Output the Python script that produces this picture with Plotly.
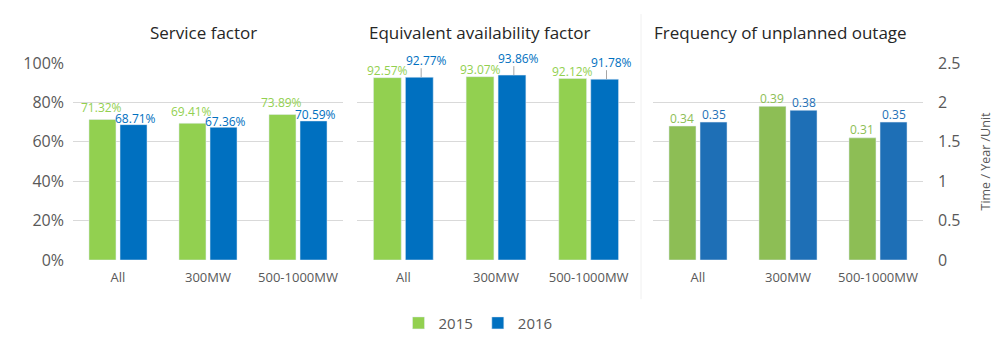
import plotly.graph_objects as go

categories = ["All", "300MW", "500-1000MW"]
years = ["2015", "2016"]
service_2015 = [71.32, 69.41, 73.89]
service_2016 = [68.71, 67.36, 70.59]
eaf_2015 = [92.57, 93.07, 92.12]
eaf_2016 = [92.77, 93.86, 91.78]
outage_2015 = [0.34, 0.39, 0.31]
outage_2016 = [0.35, 0.38, 0.35]

titles = ["Service factor", "Equivalent availability factor", "Frequency of unplanned outage"]
right_axis_title = "Time / Year /Unit"

GREEN = "#92D050"
BLUE = "#0070C0"
GREEN3 = "#8DBE55"
BLUE3 = "#1E6FB6"
FONT = "Open Sans"
GRAY = "#595959"
GRID = "#D9D9D9"
BARGAP = 0.31
OFFSET = (1 - BARGAP) / 4  # centre offset of each bar inside its group

fig = go.Figure()


def bar(y, name, color, xa, ya, legend=False):
    return go.Bar(x=categories, y=y, name=name, marker_color=color, xaxis=xa, yaxis=ya,
                  showlegend=legend, hoverinfo="x+y")


def labels(values, fmt, color, xa, ya, side, yshift, xshift=0):
    for i, v in enumerate(values):
        fig.add_annotation(x=i + side * OFFSET, y=v, xref=xa, yref=ya, text=fmt.format(v),
                           showarrow=False, xanchor="center", yanchor="middle",
                           yshift=yshift, xshift=xshift,
                           font=dict(color=color, size=12, family=FONT))


# Panel 1
fig.add_trace(bar(service_2015, years[0], GREEN, "x", "y", legend=True))
fig.add_trace(bar(service_2016, years[1], BLUE, "x", "y", legend=True))
labels(service_2015, "{:.2f}%", GREEN, "x", "y", -1, 12, -1)
labels(service_2016, "{:.2f}%", BLUE, "x", "y", 1, 6, 2)

# Panel 2
fig.add_trace(bar(eaf_2015, years[0], GREEN, "x2", "y2"))
fig.add_trace(bar(eaf_2016, years[1], BLUE, "x2", "y2"))
labels(eaf_2015, "{:.2f}%", GREEN, "x2", "y2", -1, 7)
labels(eaf_2016, "{:.2f}%", BLUE, "x2", "y2", 1, 17, 7)
for i, v in enumerate(eaf_2016):
    fig.add_shape(type="line", xref="x2", yref="y2", x0=i + OFFSET + 0.02, x1=i + OFFSET + 0.02,
                  ysizemode="pixel", yanchor=v, y0=0, y1=9,
                  line=dict(color="#A6A6A6", width=1))

# Panel 3: invisible anchor trace on the visible right axis y3, bars on hidden y4
fig.add_trace(go.Scatter(x=[categories[0]], y=[0], mode="markers", marker=dict(opacity=0),
                         xaxis="x3", yaxis="y3", showlegend=False, hoverinfo="skip"))
fig.add_trace(bar(outage_2015, years[0], GREEN3, "x3", "y4"))
fig.add_trace(bar(outage_2016, years[1], BLUE3, "x3", "y4"))
labels(outage_2015, "{:.2f}", GREEN3, "x3", "y4", -1, 8)
labels(outage_2016, "{:.2f}", BLUE3, "x3", "y4", 1, 8)

ydom = [0.2614, 0.821]
xcommon = dict(type="category", showgrid=False, showline=False, zeroline=False, ticks="",
               tickfont=dict(size=13, color=GRAY), ticklabelstandoff=8, automargin=False)
ycommon = dict(domain=ydom, showgrid=True, gridcolor=GRID, gridwidth=1, zeroline=False,
               showline=False, ticks="", automargin=False)

fig.update_layout(
    width=1000, height=352, margin=dict(l=0, r=0, t=0, b=0, autoexpand=False),
    paper_bgcolor="white", plot_bgcolor="white",
    font=dict(family=FONT, color=GRAY),
    barmode="group", bargap=BARGAP, bargroupgap=0.13,
    xaxis=dict(domain=[0.073, 0.343], anchor="y", **xcommon),
    xaxis2=dict(domain=[0.357, 0.635], anchor="y2", **xcommon),
    xaxis3=dict(domain=[0.653, 0.923], anchor="y3", **xcommon),
    yaxis=dict(anchor="x", range=[0, 100], dtick=20, ticksuffix="%",
               tickfont=dict(size=16, color=GRAY), ticklabelstandoff=8, **ycommon),
    yaxis2=dict(anchor="x2", range=[0, 100], dtick=20, showticklabels=False, **ycommon),
    yaxis3=dict(anchor="x3", side="right", range=[0, 2.5], dtick=0.5,
                tickfont=dict(size=16, color=GRAY), ticklabelstandoff=14,
                title=dict(text=right_axis_title, font=dict(size=12.5, color=GRAY), standoff=21),
                **ycommon),
    yaxis4=dict(anchor="x3", overlaying="y3", range=[0, 0.5], domain=ydom,
                visible=False, showgrid=False, zeroline=False),
    legend=dict(orientation="h", x=0.478, xanchor="center", y=0.082, yanchor="middle",
                font=dict(size=15, color=GRAY), traceorder="normal"),
    showlegend=True,
)

for xpos, anchor, t in [(0.203, "center", titles[0]), (0.48, "center", titles[1]),
                        (0.652, "left", titles[2])]:
    fig.add_annotation(x=xpos, y=0.909, xref="paper", yref="paper", text=t, xanchor=anchor,
                       yanchor="middle", showarrow=False,
                       font=dict(size=17, color="#262626", family=FONT))

fig.add_shape(type="line", xref="paper", yref="paper", x0=0.641, x1=0.641, y0=0.15, y1=0.96,
              line=dict(color="#F0F0F0", width=1))

fig.write_html("out.html")
